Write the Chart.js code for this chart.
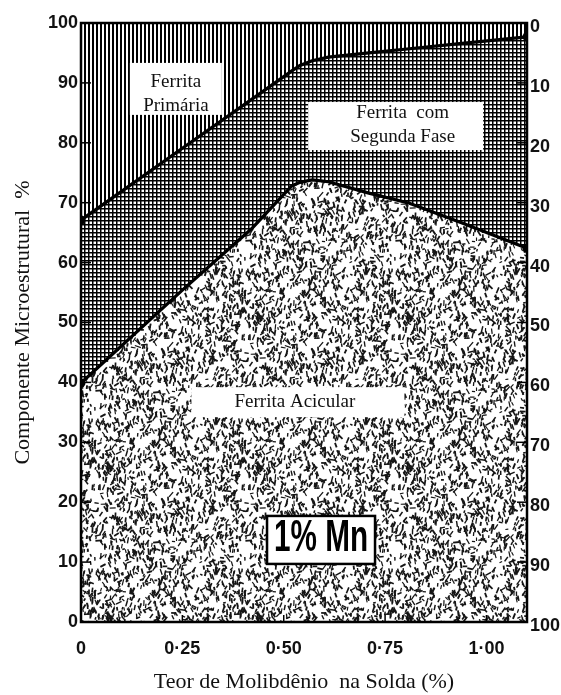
<!DOCTYPE html>
<html><head><meta charset="utf-8">
<script src="https://cdn.jsdelivr.net/npm/chart.js@4.4.0/dist/chart.umd.min.js"></script>
<style>html,body{margin:0;padding:0;background:#fff;overflow:hidden}#wrap{width:561px;height:695px}</style>
</head><body><div id="wrap"><canvas id="c" width="561" height="695"></canvas></div>
<script>
// ---- data ----
const molibdenio = [0, 0.25, 0.42, 0.52, 0.54, 0.57, 0.61, 0.71, 0.81, 0.94, 1.10];
const aciculaTopo = [39.9, 55.4, 65.6, 72.8, 73.4, 73.8, 73.5, 71.6, 69.9, 66.6, 62.4];
const segundaFaseTopo = [67.1, 79.1, 87.2, 92.0, 92.9, 93.7, 94.3, 95.0, 95.7, 96.6, 97.7];
const primariaTopo = [100, 100, 100, 100, 100, 100, 100, 100, 100, 100, 100];
const pontosX = [0.27, 0.27];
const pontosY = [77.5, 55.9];
const xTicks = [0, 0.25, 0.5, 0.75, 1.0];
const xTickLabels = ['0', '0·25', '0·50', '0·75', '1·00'];
const yTicks = [0, 10, 20, 30, 40, 50, 60, 70, 80, 90, 100];

// ---- textures ----
function rng(a){return function(){a|=0;a=a+0x6D2B79F5|0;let t=Math.imul(a^a>>>15,1|a);t=t+Math.imul(t^t>>>7,61|t)^t;return((t^t>>>14)>>>0)/4294967296;};}
function makeTile(w,h,draw){const c=document.createElement('canvas');c.width=w;c.height=h;const g=c.getContext('2d');g.fillStyle='#fff';g.fillRect(0,0,w,h);draw(g,w,h);return document.getElementById('c').getContext('2d').createPattern(c,'repeat');}
const vertPattern = makeTile(4,4,(g)=>{g.fillStyle='#000';g.fillRect(0,0,2,4);});
const gridPattern = makeTile(4,4,(g)=>{g.fillStyle='#000';g.fillRect(0,0,1,4);g.fillRect(0,0,4,1);g.fillStyle='rgba(0,0,0,0.5)';g.fillRect(1,0,1,4);g.fillRect(0,1,4,1);});
const dashPattern = makeTile(150,150,(g,S)=>{
  const r=rng(12345);g.strokeStyle='#151515';g.lineCap='butt';
  for(let i=0;i<1200;i++){
    const x=r()*S,y=r()*S,len=2.5+r()*4;
    const ang = r()<0.6 ? Math.PI/2+(r()-0.5)*1.3 : r()*Math.PI;
    g.lineWidth=1.1+r()*0.8;
    const dx=Math.cos(ang)*len/2,dy=Math.sin(ang)*len/2;
    for(const ox of [-S,0,S])for(const oy of [-S,0,S]){g.beginPath();g.moveTo(x-dx+ox,y-dy+oy);g.lineTo(x+dx+ox,y+dy+oy);g.stroke();}
  }
});

const notes = [
  {x:0.234, y:89.0, w:92, h:52, lines:['Ferrita','Primária'], tx:0, ty:[-7,17]},
  {x:0.776, y:82.8, w:175, h:48, lines:['Ferrita  com','Segunda Fase'], tx:7, ty:[-13,11]},
  {x:0.535, y:36.7, w:213, h:30, lines:['Ferrita Acicular'], tx:-3, ty:[0]}
];
const mnNote = {x:0.592, y:13.7, w:108, h:48, text:'1% Mn'};

const decor = {
  id:'decor',
  afterDatasetsDraw(chart){
    const {ctx, chartArea:a, scales} = chart;
    const x=scales.x, y=scales.y, y2=scales.y2;
    ctx.save();
    ctx.strokeStyle='#000';
    const seg=(x1,y1,x2,y2_)=>{ctx.beginPath();ctx.moveTo(x1,y1);ctx.lineTo(x2,y2_);ctx.stroke();};
    ctx.lineWidth=1.5;
    yTicks.slice(1,-1).forEach(v=>{const p=y.getPixelForValue(v);seg(a.left,p,a.left+10,p);const q=y2.getPixelForValue(v);seg(a.right-10,q,a.right,q);});
    xTicks.slice(1).forEach(v=>{const p=x.getPixelForValue(v);seg(p,a.bottom,p,a.bottom-7);});
    ctx.lineWidth=2.5;
    ctx.strokeRect(a.left,a.top,a.right-a.left,a.bottom-a.top);
    // text boxes
    ctx.font='19px "Liberation Serif", "Times New Roman", serif';
    ctx.textAlign='center';ctx.textBaseline='middle';
    notes.forEach(n=>{
      const cx=x.getPixelForValue(n.x), cy=y.getPixelForValue(n.y);
      ctx.fillStyle='#fff';ctx.fillRect(cx-n.w/2,cy-n.h/2,n.w,n.h);
      ctx.fillStyle='#111';
      n.lines.forEach((t,i)=>ctx.fillText(t,cx+n.tx,cy+n.ty[i]));
    });
    const mx=x.getPixelForValue(mnNote.x), my=y.getPixelForValue(mnNote.y);
    ctx.fillStyle='#fff';ctx.fillRect(mx-mnNote.w/2,my-mnNote.h/2,mnNote.w,mnNote.h);
    ctx.lineWidth=2.5;ctx.strokeRect(mx-mnNote.w/2,my-mnNote.h/2,mnNote.w,mnNote.h);
    ctx.font='bold 44px "Liberation Sans", Arial, sans-serif';
    const tw=ctx.measureText(mnNote.text).width;
    ctx.translate(mx,my-1);ctx.scale(94/tw,1);
    ctx.fillStyle='#000';ctx.fillText(mnNote.text,0,0);
    ctx.restore();
  }
};

const endPts = (n)=> (c)=> (c.dataIndex===0||c.dataIndex===n-1)?4.5:0;
const tickFont = {family:'"Liberation Sans", Arial, sans-serif', size:18, weight:'bold'};
const serif = '"Liberation Serif", "Times New Roman", serif';

new Chart(document.getElementById('c'), {
  type:'line',
  data:{datasets:[
    {label:'Ferrita Acicular', data:molibdenio.map((v,i)=>({x:v,y:aciculaTopo[i]})), fill:'origin', backgroundColor:dashPattern, borderColor:'#000', borderWidth:3.2, pointRadius:endPts(molibdenio.length), pointBackgroundColor:'#000', pointBorderWidth:0, tension:0},
    {label:'Ferrita com Segunda Fase', data:molibdenio.map((v,i)=>({x:v,y:segundaFaseTopo[i]})), fill:'-1', backgroundColor:gridPattern, borderColor:'#000', borderWidth:3.2, pointRadius:endPts(molibdenio.length), pointBackgroundColor:'#000', pointBorderWidth:0, tension:0},
    {label:'Ferrita Primária', data:molibdenio.map((v,i)=>({x:v,y:primariaTopo[i]})), fill:'-1', backgroundColor:vertPattern, borderWidth:0, pointRadius:0},
    {label:'pontos', type:'scatter', data:pontosX.map((v,i)=>({x:v,y:pontosY[i]})), pointRadius:3, backgroundColor:'#000', borderWidth:0, fill:false, showLine:false}
  ]},
  options:{
    responsive:false, animation:false, devicePixelRatio:1,
    layout:{padding:{top:23,left:0,right:0,bottom:0}},
    plugins:{legend:{display:false},tooltip:{enabled:false}},
    scales:{
      x:{type:'linear',min:0,max:1.10,
        afterBuildTicks:s=>{s.ticks=xTicks.map(v=>({value:v}));},
        afterFit:s=>{s.height=73;},
        grid:{display:false,drawTicks:false},border:{display:false},
        ticks:{font:tickFont,color:'#111',padding:16,maxRotation:0,autoSkip:false,
          callback:(v)=>{const i=xTicks.findIndex(t=>Math.abs(t-v)<1e-9);return i<0?'':xTickLabels[i];}},
        title:{display:true,text:'Teor de Molibdênio  na Solda (%)',color:'#111',font:{family:serif,size:22,lineHeight:1},padding:{top:0,bottom:1.5}}
      },
      y:{position:'left',min:0,max:100,
        afterBuildTicks:s=>{s.ticks=yTicks.map(v=>({value:v}));},
        afterFit:s=>{s.width=81;},
        grid:{display:false,drawTicks:false},border:{display:false},
        ticks:{font:tickFont,color:'#111',padding:3},
        title:{display:true,text:'Componente Microestrutural  %',color:'#111',font:{family:serif,size:22,lineHeight:1},padding:{top:12,bottom:0}}
      },
      y2:{position:'right',min:0,max:100,reverse:true,
        afterBuildTicks:s=>{s.ticks=yTicks.map(v=>({value:v}));},
        afterFit:s=>{s.width=34;},
        grid:{display:false,drawTicks:false},border:{display:false},
        ticks:{font:tickFont,color:'#111',padding:3,labelOffset:4}
      }
    }
  },
  plugins:[decor]
});
</script></body></html>
